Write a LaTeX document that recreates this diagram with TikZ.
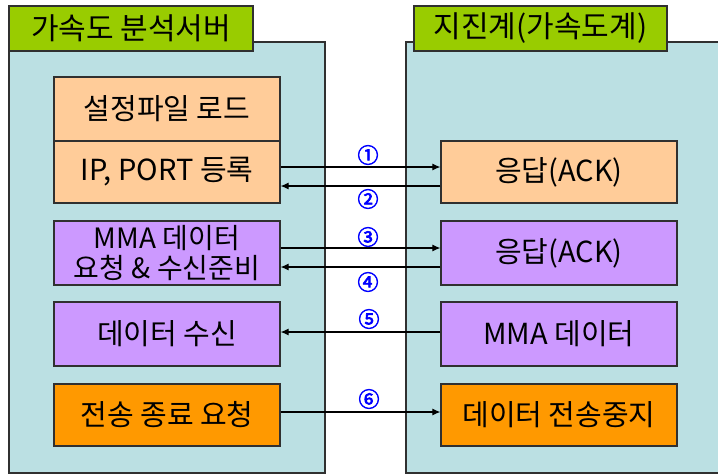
\documentclass[tikz,border=0pt]{standalone}
\usepackage{fontspec}
\setmainfont{Noto Sans CJK KR}
\newfontfamily\numfont[FakeBold=3]{Noto Sans CJK KR}
\usetikzlibrary{arrows.meta}
\definecolor{panelc}{HTML}{BBE0E3}
\definecolor{tabc}{HTML}{99CC00}
\definecolor{lorc}{HTML}{FFCC99}
\definecolor{purc}{HTML}{CC99FF}
\definecolor{orgc}{HTML}{FF9900}
\definecolor{edgec}{HTML}{303030}
\definecolor{numc}{HTML}{0000FF}
\tikzset{
  panelbox/.style={fill=panelc, draw=edgec, line width=1.4pt},
  tabbox/.style={fill=tabc, draw=edgec, line width=1.4pt, inner sep=0pt, minimum height=45pt, font=\fontsize{30}{32}\selectfont},
  lbox/.style={draw=edgec, line width=1.2pt, inner sep=0pt, minimum width=226pt, align=center, font=\fontsize{29}{30}\selectfont},
  rbox/.style={draw=edgec, line width=1.2pt, inner sep=0pt, minimum width=236pt, align=center, font=\fontsize{29}{30}\selectfont},
  arr/.style={draw=black, line width=1.1pt, -{Latex[length=8pt,width=7pt]}},
  numlbl/.style={text=numc, font=\numfont\fontsize{21}{21}\selectfont, inner sep=0pt}
}
\begin{document}
\begin{tikzpicture}[x=1pt,y=-1pt]
\useasboundingbox (0,0) rectangle (718,474);
% panels
\draw[panelbox] (9,42) rectangle (325,473);
\draw[panelbox] (406,42) rectangle (740,473);
% tabs
\node[tabbox, minimum width=244pt] (tl) at (131,28.5) {가속도 분석서버};
\node[tabbox, minimum width=253pt] (tr) at (540.5,28.5) {지진계(가속도계)};
% left boxes
\node[lbox, fill=lorc, minimum height=64pt] (l1) at (167,109) {설정파일 로드};
\node[lbox, fill=lorc, minimum height=62pt] (l2) at (167,172) {IP, PORT 등록};
\node[lbox, fill=purc, minimum height=64pt, font=\fontsize{28}{30}\selectfont] (l3) at (167,253) {MMA 데이터\\요청 \& 수신준비};
\node[lbox, fill=purc, minimum height=64pt] (l4) at (167,334) {데이터 수신};
\node[lbox, fill=orgc, minimum height=62pt] (l5) at (167,415) {전송 종료 요청};
% right boxes
\node[rbox, fill=lorc, minimum height=62pt] (r1) at (559,172) {응답(ACK)};
\node[rbox, fill=purc, minimum height=64pt] (r2) at (559,253) {응답(ACK)};
\node[rbox, fill=purc, minimum height=64pt] (r3) at (559,334) {MMA 데이터};
\node[rbox, fill=orgc, minimum height=62pt] (r4) at (559,415) {데이터 전송중지};
% arrows
\draw[arr] (l2.east |- 0,167) -- (r1.west |- 0,167);
\draw[arr] (r1.west |- 0,186) -- (l2.east |- 0,186);
\draw[arr] (l3.east |- 0,248) -- (r2.west |- 0,248);
\draw[arr] (r2.west |- 0,267) -- (l3.east |- 0,267);
\draw[arr] (r3.west |- 0,332) -- (l4.east |- 0,332);
\draw[arr] (l5.east |- 0,412) -- (r4.west |- 0,412);
% number labels
\node[numlbl] (n1) at (368,155) {①};
\node[numlbl] (n2) at (368,199) {②};
\node[numlbl] (n3) at (368,237) {③};
\node[numlbl] (n4) at (368,282) {④};
\node[numlbl] (n5) at (369,319) {⑤};
\node[numlbl] (n6) at (369,399) {⑥};
\end{tikzpicture}
\end{document}
